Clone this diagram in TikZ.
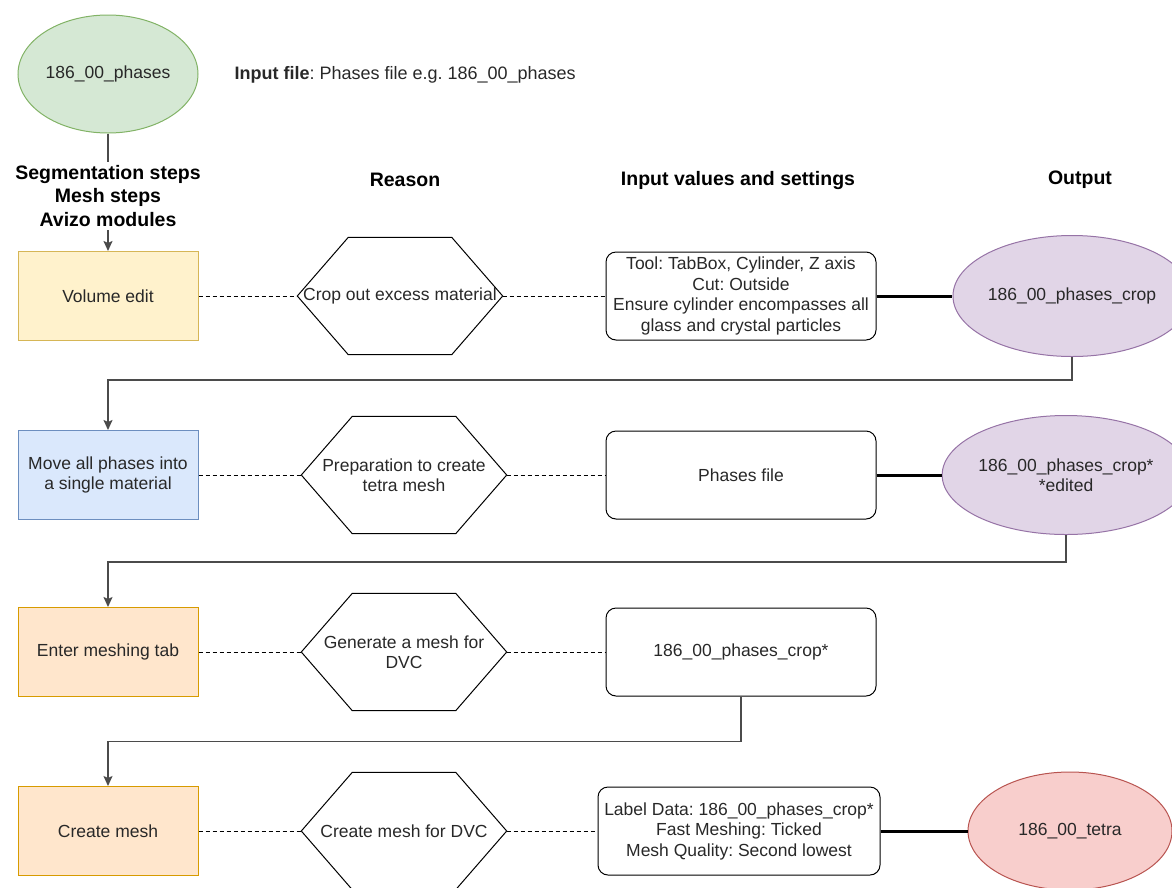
\documentclass[tikz,border=0pt]{standalone}
\usepackage{fontspec}
\setmainfont{Liberation Sans}
\usepackage{xcolor}
\usepackage{tikz}
\usetikzlibrary{arrows.meta, positioning, shapes.geometric}
\frenchspacing
\definecolor{textgray}{RGB}{40,40,40}
\definecolor{linegray}{RGB}{75,75,75}
\definecolor{greenfill}{HTML}{D5E8D4}
\definecolor{greenline}{HTML}{82B366}
\definecolor{yellowfill}{HTML}{FFF2CC}
\definecolor{yellowline}{HTML}{D6B656}
\definecolor{bluefill}{HTML}{DAE8FC}
\definecolor{blueline}{HTML}{6C8EBF}
\definecolor{orangefill}{HTML}{FFE6CC}
\definecolor{orangeline}{HTML}{D79B00}
\definecolor{purplefill}{HTML}{E1D5E7}
\definecolor{purpleline}{HTML}{9673A6}
\definecolor{redfill}{HTML}{F8CECC}
\definecolor{redline}{HTML}{B85450}
\def\rowA{296}
\def\rowB{475}
\def\rowC{652}
\def\rowD{831}
\def\hexCut{51pt}
\newcommand{\hexoutline}[1]{%
% #1 = node holding the reason text
\draw[line width=1pt]
(#1.west) -- ([xshift=\hexCut]#1.north west) -- ([xshift=-\hexCut]#1.north east)
-- (#1.east) -- ([xshift=-\hexCut]#1.south east) -- ([xshift=\hexCut]#1.south west) -- cycle;
}

\begin{document}
\begin{tikzpicture}[
    x=1pt, y=-1pt,
    >={Stealth[length=10pt,width=9pt,inset=2pt]},
    font=\fontsize{17.5}{20.5}\selectfont,
    text=textgray,
    stepbox/.style={rectangle, draw, line width=1pt, minimum width=180pt, minimum height=89pt, align=center},
    reasonhex/.style={rectangle, minimum width=205pt, minimum height=117pt, align=center, inner sep=0pt},
    valbox/.style={rectangle, rounded corners=10pt, draw, line width=1pt, minimum width=270pt, minimum height=88pt, align=center, inner sep=1pt},
    outfile/.style={ellipse, draw, line width=1pt, align=center, inner sep=0pt},
    colhead/.style={font=\bfseries\fontsize{19.5}{23.5}\selectfont, text=black, align=center},
    dashlink/.style={draw=black, line width=1pt, dash pattern=on 4pt off 3pt},
    outlink/.style={draw=black, line width=3pt},
    flow/.style={->, draw=linegray, line width=1.6pt}
]
\useasboundingbox (0,0) rectangle (1172,887);

% input file
\node[outfile, fill=greenfill, draw=greenline, minimum width=180pt, minimum height=118pt] (phases) at (108,74) {186\_00\_phases};
\node[anchor=west, font=\fontsize{18}{21}\selectfont] (inputfile) at (231,75) {\textbf{Input file}: Phases file e.g. 186\_00\_phases};
\node[colhead] (steps) at (108,196) {Segmentation steps\\Mesh steps\\Avizo modules};

% column headers
\node[colhead] (hreason) at (405,180) {Reason};
\node[colhead] (hvalues) at (738,180) {Input values and settings};
\node[colhead] (houtput) at (1080,180) {Output};

% row 1
\node[stepbox, fill=yellowfill, draw=yellowline] (edit) at (108,\rowA) {Volume edit};
\node[reasonhex] (crop) at (400,\rowA) {Crop out excess material};
\node[valbox] (cropset) at (741,\rowA) {Tool: TabBox, Cylinder, Z axis\\Cut: Outside\\Ensure cylinder encompasses all\\glass and crystal particles};
\node[outfile, fill=purplefill, draw=purpleline, minimum width=200pt, minimum height=121pt] (cropped) at (1072,\rowA) {186\_00\_phases\_crop};

% row 2
\node[stepbox, fill=bluefill, draw=blueline] (merge) at (108,\rowB) {Move all phases into\\a single material};
\node[reasonhex] (prep) at (404,\rowB) {Preparation to create\\tetra mesh};
\node[valbox] (phasesfile) at (741,\rowB) {Phases file};
\node[outfile, fill=purplefill, draw=purpleline, minimum width=210pt, minimum height=119pt] (edited) at (1066,\rowB) {186\_00\_phases\_crop*\\*edited};

% row 3
\node[stepbox, fill=orangefill, draw=orangeline] (meshtab) at (108,\rowC) {Enter meshing tab};
\node[reasonhex] (gen) at (404,\rowC) {Generate a mesh for\\DVC};
\node[valbox] (cropstar) at (741,\rowC) {186\_00\_phases\_crop*};

% row 4
\node[stepbox, fill=orangefill, draw=orangeline] (mesh) at (108,\rowD) {Create mesh};
\node[reasonhex] (meshdvc) at (404,\rowD) {Create mesh for DVC};
\node[valbox, minimum width=282pt] (meshset) at (739,\rowD) {Label Data: 186\_00\_phases\_crop*\\Fast Meshing: Ticked\\Mesh Quality: Second lowest};
\node[outfile, fill=redfill, draw=redline, minimum width=204pt, minimum height=118pt] (tetra) at (1070,\rowD) {186\_00\_tetra};

\foreach \h in {crop, prep, gen, meshdvc} {\hexoutline{\h}}

% links
\draw[draw=linegray, line width=1.6pt] (phases) -- (steps);
\draw[flow] (steps) -- (edit);
\foreach \p/\q in {edit/crop, crop/cropset, merge/prep, prep/phasesfile, meshtab/gen, gen/cropstar, mesh/meshdvc, meshdvc/meshset}
  \draw[dashlink] (\p) -- (\q);
\draw[outlink] (cropset) -- (cropped);
\draw[outlink] (phasesfile) -- (edited);
\draw[outlink] (meshset) -- (tetra);
\draw[flow] (cropped.south) -- ++(0,23) -| (merge.north);
\draw[flow] (edited.south) -- ++(0,27) -| (meshtab.north);
\draw[flow] (cropstar.south) -- ++(0,45) -| (mesh.north);
\end{tikzpicture}
\end{document}
